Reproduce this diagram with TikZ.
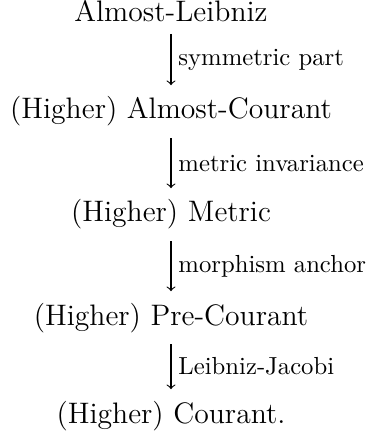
\documentclass[tikz,border=0pt]{standalone}
\begin{document}
\begin{tikzpicture}[x=0.405pt,y=-0.405pt,
  obj/.style={anchor=base,inner xsep=0pt,inner ysep=4.5pt,font=\large},
  lab/.style={anchor=west,inner sep=0pt,font=\normalsize,xshift=2.8pt},
  arr/.style={-to,line width=0.45pt}]
\useasboundingbox (0,0) rectangle (366,437);
\node[obj] (a) at (171,22) {Almost-Leibniz};
\node[obj] (b) at (171,119) {(Higher) Almost-Courant};
\node[obj] (c) at (171,222) {(Higher) Metric};
\node[obj] (d) at (171,325) {(Higher) Pre-Courant};
\node[obj] (e) at (171,423) {(Higher) Courant.};
\draw[arr] (a.south) -- (b.north) node[lab,midway] {symmetric part};
\draw[arr] (b.south) -- (c.north) node[lab,midway] {metric invariance};
\draw[arr] (c.south) -- (d.north) node[lab,midway] {morphism anchor};
\draw[arr] (d.south) -- (e.north) node[lab,midway] {Leibniz-Jacobi};
\end{tikzpicture}
\end{document}
